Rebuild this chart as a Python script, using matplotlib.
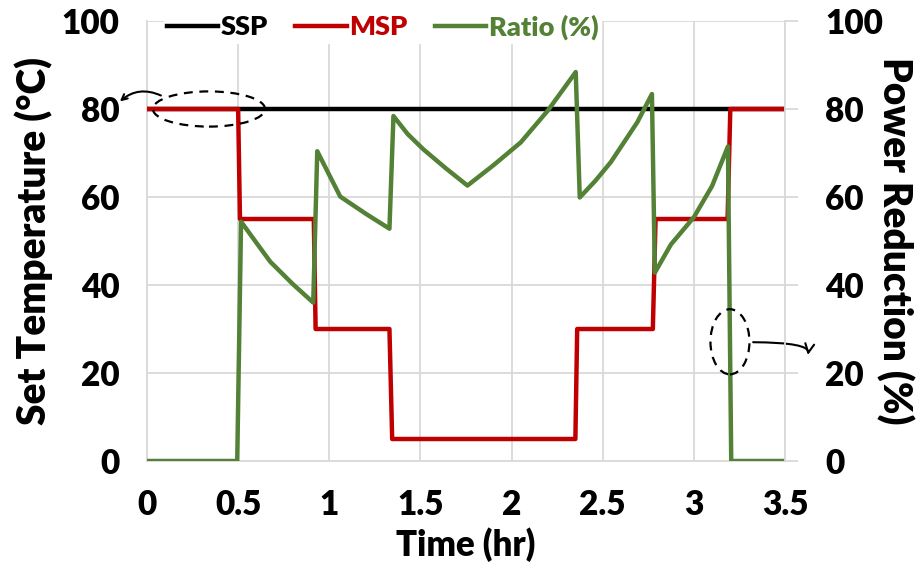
import matplotlib
matplotlib.use("Agg")
import matplotlib.pyplot as plt
from matplotlib.patches import Ellipse

# ---- data ----
ssp_t = [0, 3.5]
ssp_v = [80, 80]

msp_t = [0, 0.50, 0.51, 0.915, 0.925, 1.33, 1.345, 2.35, 2.36, 2.775, 2.79, 3.185, 3.20, 3.5]
msp_v = [80, 80, 55, 55, 30, 30, 5, 5, 30, 30, 55, 55, 80, 80]

ratio_t = [0, 0.495, 0.516, 0.6, 0.676, 0.8, 0.912, 0.934, 1.0, 1.06, 1.2, 1.33, 1.352, 1.43,
           1.517, 1.64, 1.758, 1.9, 2.05, 2.2, 2.352, 2.374, 2.46, 2.544, 2.69, 2.77, 2.786,
           2.874, 3.0, 3.1, 3.187, 3.205, 3.5]
ratio_v = [0, 0, 54.4, 49.6, 45.3, 40.2, 36.0, 70.4, 65.0, 60.1, 56.2, 52.8, 78.4, 74.3,
           70.8, 66.5, 62.6, 67.2, 72.4, 79.7, 88.4, 59.9, 63.7, 67.9, 77.0, 83.4, 42.8,
           49.2, 55.4, 62.5, 71.5, 0, 0]

xticks = [0, 0.5, 1, 1.5, 2, 2.5, 3, 3.5]
xtick_labels = ["0", "0.5", "1", "1.5", "2", "2.5", "3", "3.5"]
yticks = [0, 20, 40, 60, 80, 100]

RED = "#C00000"
GREEN = "#538135"
GRID = "#D9D9D9"
FONT = "Lato"
W = "heavy"

fig = plt.figure(figsize=(9.19, 5.65), dpi=100)
ax = fig.add_axes([147/919, 1-461/565, (785-147)/919, (461-21)/565])
ax2 = ax.twinx()

ax.set_xlim(0, 3.5)
ax.set_ylim(0, 100)
ax2.set_ylim(0, 100)

ax.set_xticks(xticks)
ax.set_xticklabels(xtick_labels)
ax.set_yticks(yticks)
ax2.set_yticks(yticks)

ax.grid(True, color=GRID, linewidth=1.3)
ax.set_axisbelow(True)

for a in (ax, ax2):
    for s in a.spines.values():
        s.set_visible(False)
ax.spines["left"].set_visible(True)
ax.spines["left"].set_color(GRID)
ax.spines["left"].set_linewidth(1.3)
ax.spines["bottom"].set_visible(True)
ax.spines["bottom"].set_color(GRID)
ax.spines["bottom"].set_linewidth(1.3)
ax2.spines["right"].set_visible(True)
ax2.spines["right"].set_color(GRID)
ax2.spines["right"].set_linewidth(1.3)

ax.tick_params(axis="x", length=0, pad=20, labelsize=24)
ax.tick_params(axis="y", length=0, pad=20, labelsize=24)
ax2.tick_params(axis="y", length=9, width=1.3, color=GRID, pad=20, labelsize=24)
for lab in ax.get_xticklabels() + ax.get_yticklabels() + ax2.get_yticklabels():
    lab.set_fontfamily(FONT)
    lab.set_fontweight(W)

l1, = ax.plot(ssp_t, ssp_v, color="black", lw=3.2, label="SSP", zorder=3)
l2, = ax.plot(msp_t, msp_v, color=RED, lw=3.2, label="MSP", zorder=4)
l3, = ax.plot(ratio_t, ratio_v, color=GREEN, lw=3.2, label="Ratio (%)", zorder=5)

ax.set_xlabel("Time (hr)", fontsize=25, fontweight=W, fontfamily=FONT, labelpad=5)
ax.set_ylabel("Set Temperature (\u00b0C)", fontsize=28, fontweight=W, fontfamily=FONT, labelpad=6)
ax2.set_ylabel("Power Reduction (%)", fontsize=28, fontweight=W, fontfamily=FONT,
               rotation=-90, labelpad=22)

leg = ax.legend(handles=[l1, l2, l3], loc="center left", bbox_to_anchor=(0.027, 0.986),
                ncol=3, frameon=True, framealpha=1, edgecolor="white", facecolor="white",
                prop={"family": FONT, "weight": W, "size": 19.5},
                handlelength=1.9, handletextpad=0.1, columnspacing=1.0, borderpad=0.1,
                borderaxespad=0)
for txt, col in zip(leg.get_texts(), ["black", RED, GREEN]):
    txt.set_color(col)
leg.set_zorder(10)

# annotations
e1 = Ellipse((0.34, 80), 0.615, 8.0, fill=False, ls=(0, (4, 3)), lw=1.6, color="black",
             zorder=6, clip_on=False)
ax.add_patch(e1)
ax.annotate("", xy=(-0.16, 81.3), xytext=(0.09, 82.8),
            arrowprops=dict(arrowstyle="->", lw=1.5, color="black",
                            connectionstyle="arc3,rad=0.35"),
            annotation_clip=False, zorder=6)

e2 = Ellipse((3.198, 27.1), 0.214, 14.8, fill=False, ls=(0, (4, 3)), lw=1.6, color="black",
             zorder=6, clip_on=False)
ax.add_patch(e2)
ax.annotate("", xy=(3.62, 23.5), xytext=(3.31, 27.0),
            arrowprops=dict(arrowstyle="->", lw=1.5, color="black", mutation_scale=16,
                            connectionstyle="angle3,angleA=0,angleB=60"),
            annotation_clip=False, zorder=6)

fig.savefig("out.png", dpi=100)
